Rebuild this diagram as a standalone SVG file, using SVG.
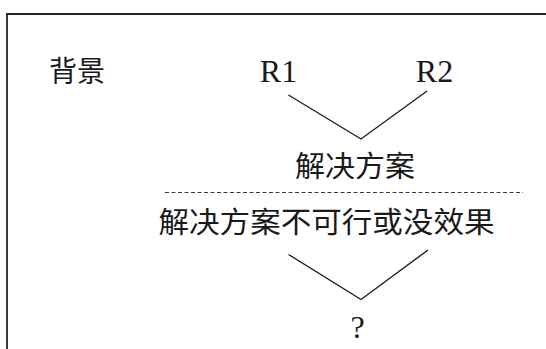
<svg xmlns="http://www.w3.org/2000/svg" width="546" height="349" viewBox="0 0 546 349">
<style>
.lat{font-family:"Liberation Serif","Noto Sans CJK SC",serif;font-size:32px;fill:#1a1a1a}
.cjk{font-family:"Noto Sans CJK SC","Liberation Serif",sans-serif;font-size:29px;font-weight:400;fill:#1a1a1a}
.con{fill:none;stroke:#1e1e1e;stroke-width:1.4}
</style>
<rect width="546" height="349" fill="#ffffff"/>
<g id="frame">
<polyline points="7,349 7,14 546,14" fill="none" stroke="#2a2222" stroke-width="1.8"/>
</g>
<g id="label-background"><text class="cjk" x="49" y="82" textLength="56" lengthAdjust="spacingAndGlyphs">背景</text></g>
<g id="node-r1"><text class="lat" x="278.5" y="82" text-anchor="middle">R1</text></g>
<g id="node-r2"><text class="lat" x="434.5" y="82" text-anchor="middle">R2</text></g>
<g id="node-solution"><text class="cjk" x="295" y="177" textLength="120" lengthAdjust="spacingAndGlyphs">解决方案</text></g>
<g id="divider"><line x1="165" y1="192.5" x2="523" y2="192.5" stroke="#3a3a3a" stroke-width="1" stroke-dasharray="4,2.5"/></g>
<g id="node-failed"><text class="cjk" x="158.5" y="233" textLength="336" lengthAdjust="spacingAndGlyphs">解决方案不可行或没效果</text></g>
<g id="node-question"><text class="lat" x="357.5" y="338" text-anchor="middle">?</text></g>
<g id="connectors">
<polyline class="con" points="288.5,95 361,139 427,91"/>
<polyline class="con" points="288.5,254.5 361,299.5 428,250"/>
</g>
</svg>
